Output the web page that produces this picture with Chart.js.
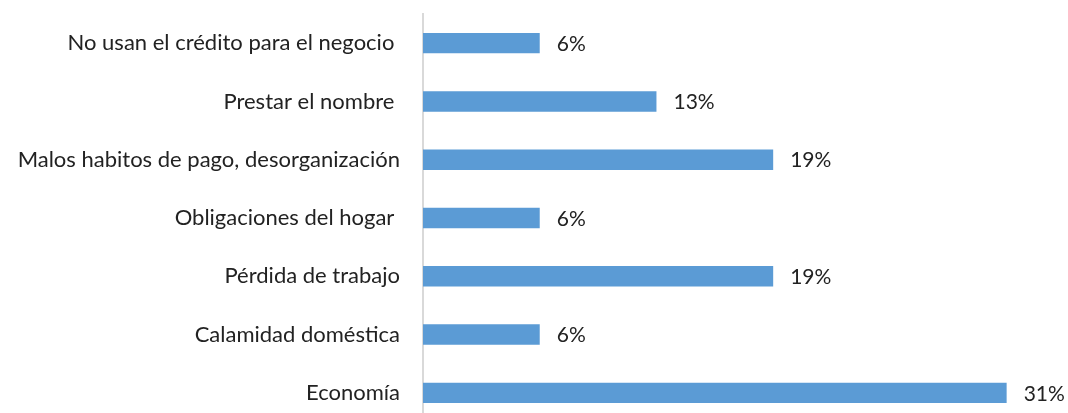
<!DOCTYPE html>
<html>
<head>
<meta charset="utf-8">
<script src="https://cdn.jsdelivr.net/npm/chart.js@4"></script>
<style>
  html, body { margin: 0; padding: 0; background: #fff; overflow: hidden; }
  canvas { display: block; }
</style>
</head>
<body>
<canvas id="motivosChart" width="1068" height="422"></canvas>
<script>
var categories = [
    'No usan el crédito para el negocio ',
    'Prestar el nombre ',
    'Malos habitos de pago, desorganización',
    'Obligaciones del hogar ',
    'Pérdida de trabajo',
    'Calamidad doméstica',
    'Economía'
];
var porcentajes = [6.25, 12.5, 18.75, 6.25, 18.75, 6.25, 31.25];

var fontFamily = 'Lato, "Open Sans", sans-serif';

// etiquetas de valor al final de cada barra
var valueLabels = {
    id: 'valueLabels',
    afterDatasetsDraw: function(chart) {
        var ctx = chart.ctx;
        var meta = chart.getDatasetMeta(0);
        ctx.save();
        ctx.font = '21px ' + fontFamily;
        ctx.fillStyle = '#222';
        ctx.textAlign = 'left';
        ctx.textBaseline = 'middle';
        meta.data.forEach(function(bar, i) {
            ctx.fillText(Math.round(porcentajes[i]) + '%', bar.x + 17, bar.y + 1);
        });
        ctx.restore();
    }
};

var el = document.getElementById('motivosChart').getContext('2d');
var motivosChart = new Chart(el, {
    type: 'bar',
    data: {
        labels: categories,
        datasets: [{
            data: porcentajes,
            backgroundColor: '#5B9BD5',
            borderWidth: 0,
            barPercentage: 0.35,
            categoryPercentage: 1
        }]
    },
    options: {
        indexAxis: 'y',
        responsive: false,
        animation: false,
        layout: { padding: { top: 14, bottom: 0, left: 0, right: 10 } },
        plugins: {
            legend: { display: false },
            tooltip: { enabled: false }
        },
        scales: {
            x: {
                display: false,
                min: 0,
                max: 34
            },
            y: {
                afterFit: function(scale) {
                    scale.width = 423;
                    // no extra room above/below for the labels
                    scale.paddingTop = 0;
                    scale.paddingBottom = 0;
                },
                grid: { display: false, drawTicks: false },
                border: { display: true, color: '#d9d9d9', width: 2 },
                ticks: {
                    padding: 23,
                    color: '#222',
                    font: { family: fontFamily, size: 22 }
                }
            }
        }
    },
    plugins: [valueLabels]
});
</script>
</body>
</html>
